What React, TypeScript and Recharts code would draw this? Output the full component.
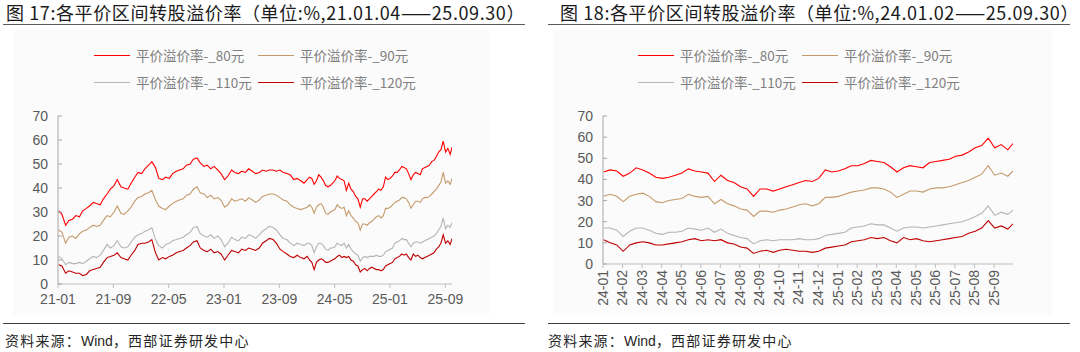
import React from "react";
import { LineChart, Line, XAxis, YAxis } from "recharts";

// trading-day samples (yy-mm-dd)
const dates = [
  "21-01-04", "21-01-18", "21-02-04", "21-02-18", "21-03-04", "21-03-18", "21-04-04", "21-04-18",
  "21-05-04", "21-05-18", "21-06-04", "21-06-18", "21-07-04", "21-07-18", "21-08-04", "21-08-18",
  "21-09-04", "21-09-18", "21-10-04", "21-10-18", "21-11-04", "21-11-18", "21-12-04", "21-12-18",
  "22-01-04", "22-01-18", "22-02-04", "22-02-18", "22-03-04", "22-03-18", "22-04-04", "22-04-18",
  "22-05-04", "22-05-18", "22-06-04", "22-06-18", "22-07-04", "22-07-18", "22-08-04", "22-08-18",
  "22-09-04", "22-09-18", "22-10-04", "22-10-18", "22-11-04", "22-11-18", "22-12-04", "22-12-18",
  "23-01-04", "23-01-18", "23-02-04", "23-02-18", "23-03-04", "23-03-18", "23-04-04", "23-04-18",
  "23-05-04", "23-05-18", "23-06-04", "23-06-18", "23-07-04", "23-07-18", "23-08-04", "23-08-18",
  "23-09-04", "23-09-18", "23-10-04", "23-10-18", "23-11-04", "23-11-18", "23-12-04", "23-12-18",
  "24-01-02", "24-01-12", "24-01-22", "24-02-02", "24-02-12", "24-02-22", "24-03-02", "24-03-12", "24-03-22",
  "24-04-02", "24-04-12", "24-04-22", "24-05-02", "24-05-12", "24-05-22", "24-06-02", "24-06-12", "24-06-22",
  "24-07-02", "24-07-12", "24-07-22", "24-08-02", "24-08-12", "24-08-22", "24-09-02", "24-09-12", "24-09-22",
  "24-10-02", "24-10-12", "24-10-22", "24-11-02", "24-11-12", "24-11-22", "24-12-02", "24-12-12", "24-12-22",
  "25-01-02", "25-01-12", "25-01-22", "25-02-02", "25-02-12", "25-02-22", "25-03-02", "25-03-12", "25-03-22",
  "25-04-02", "25-04-12", "25-04-22", "25-05-02", "25-05-12", "25-05-22", "25-06-02", "25-06-12", "25-06-22",
  "25-07-02", "25-07-12", "25-07-22", "25-08-02", "25-08-12", "25-08-22", "25-09-02", "25-09-12", "25-09-22",
  "25-09-30",
];

const prem80 = [
  30.5, 29, 24.5, 26.5, 27, 28.5, 28, 30.5, 31.5, 32.5, 34, 33.5, 33, 35.5, 37.5, 39.5, 41, 43.5, 40.5, 40, 39.5, 42, 44.5, 46.5,
  46, 48, 49.5, 51, 48.5, 44, 43.5, 44.5, 44, 46, 47, 47.5, 48, 49.5, 50, 52, 52.5, 50.5, 49, 49.5, 48, 49, 47.5, 46,
  43.5, 45, 47.5, 46.5, 46, 47, 46.5, 48, 47, 46, 46.5, 47.5, 47, 47.5, 47.5, 47, 47.5, 46.5, 46, 45.5, 43.5, 44, 43, 42,
  43.5, 44.5, 44, 41.5, 43, 45.5, 44.5, 43, 41, 40.5, 41, 42, 43, 45, 44, 43.5, 43, 39, 42, 39.5, 38.5, 36.5, 35.5, 32,
  35.5, 35.5, 34.5, 35.5, 36.5, 37.5, 38.5, 39.5, 39, 40.5, 44.5, 43.5,
  44, 45, 46.5, 46.5, 47.5, 49, 48.5, 48, 46, 43.5, 45.5, 46.5, 46, 45.5, 48, 48.5, 49, 49.5, 51, 51.5, 53, 55, 56, 59.5,
  55, 56.5, 54, 57,
];

const prem90 = [
  22.5, 21.5, 17, 19.5, 20, 19, 21, 22, 22.5, 23.5, 24.5, 24, 24.5, 26.5, 28.5, 28, 30, 32.5, 29.5, 29, 30.5, 32, 34.5, 36,
  36.5, 37.5, 38, 39, 35, 32.5, 31.5, 31, 32.5, 33.5, 34.5, 35, 35.5, 37, 37.5, 39.5, 40.5, 38, 37.5, 36, 37, 35.5, 36, 35,
  32, 33, 35.5, 34.5, 35, 35.5, 34.5, 36, 35, 34, 35, 36.5, 37, 37.5, 37.5, 37, 36, 35, 34.5, 33, 32, 31.5, 31, 31.5,
  32, 33, 32, 29.5, 32, 33, 33.5, 32, 29.5, 29, 30, 30.5, 31, 33, 32, 31.5, 32, 28.5, 30.5, 28.5, 27.5, 26, 25.5, 22.5,
  25, 25, 24.5, 25.5, 26, 27, 28, 28.5, 27.5, 28.5, 31.5, 31.5,
  32, 33, 34, 34.5, 35, 36, 36, 35.5, 34, 31.5, 33, 34.5, 34.5, 34, 35.5, 36, 36, 36.5, 37.5, 38.5, 39.5, 41, 42.5, 46.5,
  42, 43, 41.5, 44,
];

const prem110 = [
  11.5, 10.5, 8, 9, 8.5, 8.5, 9, 8.5, 9.5, 10.5, 11.5, 11, 12, 14, 16.5, 15, 16, 18, 15.5, 15, 15.5, 17.5, 19.5, 20.5,
  21, 22, 22.5, 23.5, 18.5, 16, 15, 16.5, 17, 18, 18.5, 19, 19.5, 20.5, 21.5, 23.5, 24, 21, 20, 19.5, 20.5, 19, 20, 18.5,
  15.5, 17, 19.5, 18.5, 18, 19.5, 19, 20.5, 20, 19, 20.5, 22, 23, 24, 23.5, 22.5, 20.5, 19, 18.5, 17, 16, 17, 16.5, 16,
  17, 17, 16, 13, 15.5, 17, 17, 16, 14.5, 14, 15, 15, 15.5, 17, 16.5, 16, 17, 15, 16.5, 14.5, 13.5, 12.5, 12, 9.5,
  11, 11.5, 11, 11.5, 11.5, 11.5, 12, 11.5, 11.5, 12, 13.5, 14,
  14.5, 15, 17, 17.5, 18, 19, 18.5, 18.5, 17, 15.5, 17, 17.5, 17.5, 17, 17.5, 18, 18.5, 19, 19.5, 20, 21, 22.5, 24, 27.5,
  23, 24.5, 23.5, 25.5,
];

const prem120 = [
  8, 7.5, 4.5, 5.5, 5, 4.5, 4.5, 3.5, 4, 5.5, 6, 6.5, 7, 9, 11, 11.5, 12, 13, 11, 10.5, 10, 12, 14, 16.5,
  17, 17, 17.5, 18.5, 13, 10, 11, 10.5, 11.5, 12, 13, 13.5, 14, 15, 16, 17.5, 18, 15, 14, 13.5, 14.5, 13, 13.5, 12.5,
  10, 12, 14, 13.5, 13, 14.5, 14, 15, 14.5, 14, 15, 17, 18, 19, 18.5, 17, 14.5, 13.5, 12.5, 11.5, 11, 12, 11, 10.5,
  11.5, 10, 9, 6, 9, 10, 10.5, 10, 9, 9, 9.5, 10, 10.5, 11.5, 12, 11, 11.5, 11, 11.5, 10, 9.5, 8, 7.5, 5,
  6, 6.5, 5.5, 6.5, 7, 6.5, 6, 6, 5.5, 6, 7.5, 8,
  8.5, 9, 10.5, 11, 11.5, 12.5, 12, 12.5, 11, 10, 12.5, 11.5, 12, 11, 10.5, 11, 11.5, 12, 12.5, 13, 14.5, 15.5, 17, 20.5,
  17, 18, 16.5, 19,
];

const yTicks = [0, 10, 20, 30, 40, 50, 60, 70];
const leftMonths = ["21-01", "21-09", "22-05", "23-01", "23-09", "24-05", "25-01", "25-09"];
const rightMonths = [
  "24-01", "24-02", "24-03", "24-04", "24-05", "24-06", "24-07", "24-08", "24-09", "24-10", "24-11",
  "24-12", "25-01", "25-02", "25-03", "25-04", "25-05", "25-06", "25-07", "25-08", "25-09",
];

const seriesNames = ["平价溢价率-_80元", "平价溢价率-_90元", "平价溢价率-_110元", "平价溢价率-_120元"];
const seriesKeys = ["p80", "p90", "p110", "p120"];
const seriesColors = ["#FF0000", "#C49A6C", "#B4B4B4", "#C00000"];

// months since 2021-01
const toMonths = (d: string) => {
  const [y, m, dd] = d.split("-").map(Number);
  return (y - 21) * 12 + (m - 1) + ((dd || 1) - 1) / 30;
};

const rows = dates.map((d, i) => ({
  t: toMonths(d),
  p80: prem80[i],
  p90: prem90[i],
  p110: prem110[i],
  p120: prem120[i],
}));

const END = toMonths("25-09-30");
const axisFont = "'Liberation Sans', Arial, sans-serif";
const tickColor = "#595959";

const labelFor = (labels: string[]) => (v: number) =>
  labels.find((l) => Math.abs(toMonths(l) - v) < 0.01) ?? "";

const YTick = (props: any) => {
  const { x, y, payload } = props;
  return (
    <g>
      <line x1={x + 10} x2={x + 14} y1={y} y2={y} stroke="#A6A6A6" />
      <text x={x} y={y} dy={5} textAnchor="end" fill={tickColor} fontSize={14} fontFamily={axisFont}>
        {payload.value}
      </text>
    </g>
  );
};

const VTick = (props: any) => {
  const { x, y, payload } = props;
  const label = labelFor(rightMonths)(payload.value);
  return (
    <text
      x={x}
      y={y}
      dy="0.35em"
      transform={`rotate(-90 ${x} ${y})`}
      textAnchor="end"
      fill={tickColor}
      fontSize={14}
      fontFamily={axisFont}
    >
      {label}
    </text>
  );
};

function Legend({ left, top }: { left: number; top: number }) {
  return (
    <div style={{ position: "absolute", left, top }}>
      {seriesNames.map((name, i) => (
        <div
          key={name}
          style={{
            position: "absolute",
            left: (i % 2) * 164,
            top: Math.floor(i / 2) * 27,
            display: "flex",
            alignItems: "center",
            whiteSpace: "nowrap",
          }}
        >
          <span style={{ width: 36, height: 0, borderTop: `1.5px solid ${seriesColors[i]}`, marginRight: 6 }} />
          <span style={{ fontSize: 13.5, color: "#808080", lineHeight: "16px" }}>{name}</span>
        </div>
      ))}
    </div>
  );
}

function Panel({
  left,
  title,
  start,
  vertical,
}: {
  left: number;
  title: string;
  start: number;
  vertical: boolean;
}) {
  const data = rows.filter((r) => r.t >= start);
  const ticks = (vertical ? rightMonths : leftMonths).map(toMonths);
  const chartW = 540;
  const plotLeft = vertical ? 63 : 58;
  const plotRight = vertical ? 473 : 452;
  const plotBottom = vertical ? 264 : 284;
  const xAxisH = vertical ? 50 : 24;
  return (
    <div style={{ position: "absolute", left, top: 0, width: chartW, height: 352 }}>
      <div
        style={{
          position: "absolute",
          left: vertical ? 20 : 6,
          top: 1,
          fontSize: 18,
          letterSpacing: 0.6,
          color: "#1a1a1a",
          whiteSpace: "nowrap",
          lineHeight: "22px",
        }}
      >
        {title}
      </div>
      <div style={{ position: "absolute", left: vertical ? 8 : 3, width: 522, top: 24, height: 0, borderTop: "1.5px solid #595959" }} />
      <div style={{ position: "absolute", left: 13, width: vertical ? 499 : 477, top: 30, height: 285, background: "#FBFBFB" }} />
      <Legend left={vertical ? 98 : 94} top={47} />
      <div style={{ position: "absolute", left: 0, top: 0 }}>
        <LineChart
          width={chartW}
          height={352}
          data={data}
          margin={{ top: 116, right: chartW - plotRight, bottom: 352 - plotBottom - xAxisH, left: plotLeft - 40 }}
        >
          <XAxis
            type="number"
            dataKey="t"
            domain={[start, END]}
            ticks={ticks}
            allowDataOverflow
            height={xAxisH}
            stroke="#BFBFBF"
            tickSize={4}
            tickMargin={vertical ? 2 : 6}
            tickFormatter={labelFor(leftMonths)}
            tick={vertical ? <VTick /> : { fill: tickColor, fontSize: 14, fontFamily: axisFont }}
            interval={0}
          />
          <YAxis
            domain={[0, 70]}
            ticks={yTicks}
            width={40}
            stroke="#A6A6A6"
            tickSize={0}
            tickMargin={10}
            tick={<YTick />}
            interval={0}
          />
          {seriesKeys.map((k, i) => (
            <Line
              key={k}
              type="linear"
              dataKey={k}
              stroke={seriesColors[i]}
              strokeWidth={1.1}
              dot={false}
              isAnimationActive={false}
            />
          ))}
        </LineChart>
      </div>
      <div style={{ position: "absolute", left: vertical ? 8 : 3, width: 522, top: 323, height: 0, borderTop: "1.5px solid #404040" }} />
      <div
        style={{
          position: "absolute",
          left: vertical ? 8 : 5,
          top: 331,
          fontSize: 14,
          letterSpacing: 1.2,
          color: "#262626",
          whiteSpace: "nowrap",
          lineHeight: "18px",
        }}
      >
        资料来源：<span style={{ fontFamily: axisFont, letterSpacing: 0 }}>Wind</span>，西部证券研发中心
      </div>
    </div>
  );
}

export default function App() {
  return (
    <div
      style={{
        position: "absolute",
        left: 0,
        top: 0,
        width: 1080,
        height: 352,
        background: "#FFFFFF",
        fontFamily: "'Noto Sans CJK SC', 'Noto Sans', sans-serif",
        overflow: "hidden",
      }}
    >
      <Panel left={0} title="图 17:各平价区间转股溢价率（单位:%,21.01.04——25.09.30）" start={0} vertical={false} />
      <Panel left={540} title="图 18:各平价区间转股溢价率（单位:%,24.01.02——25.09.30）" start={36} vertical />
    </div>
  );
}
